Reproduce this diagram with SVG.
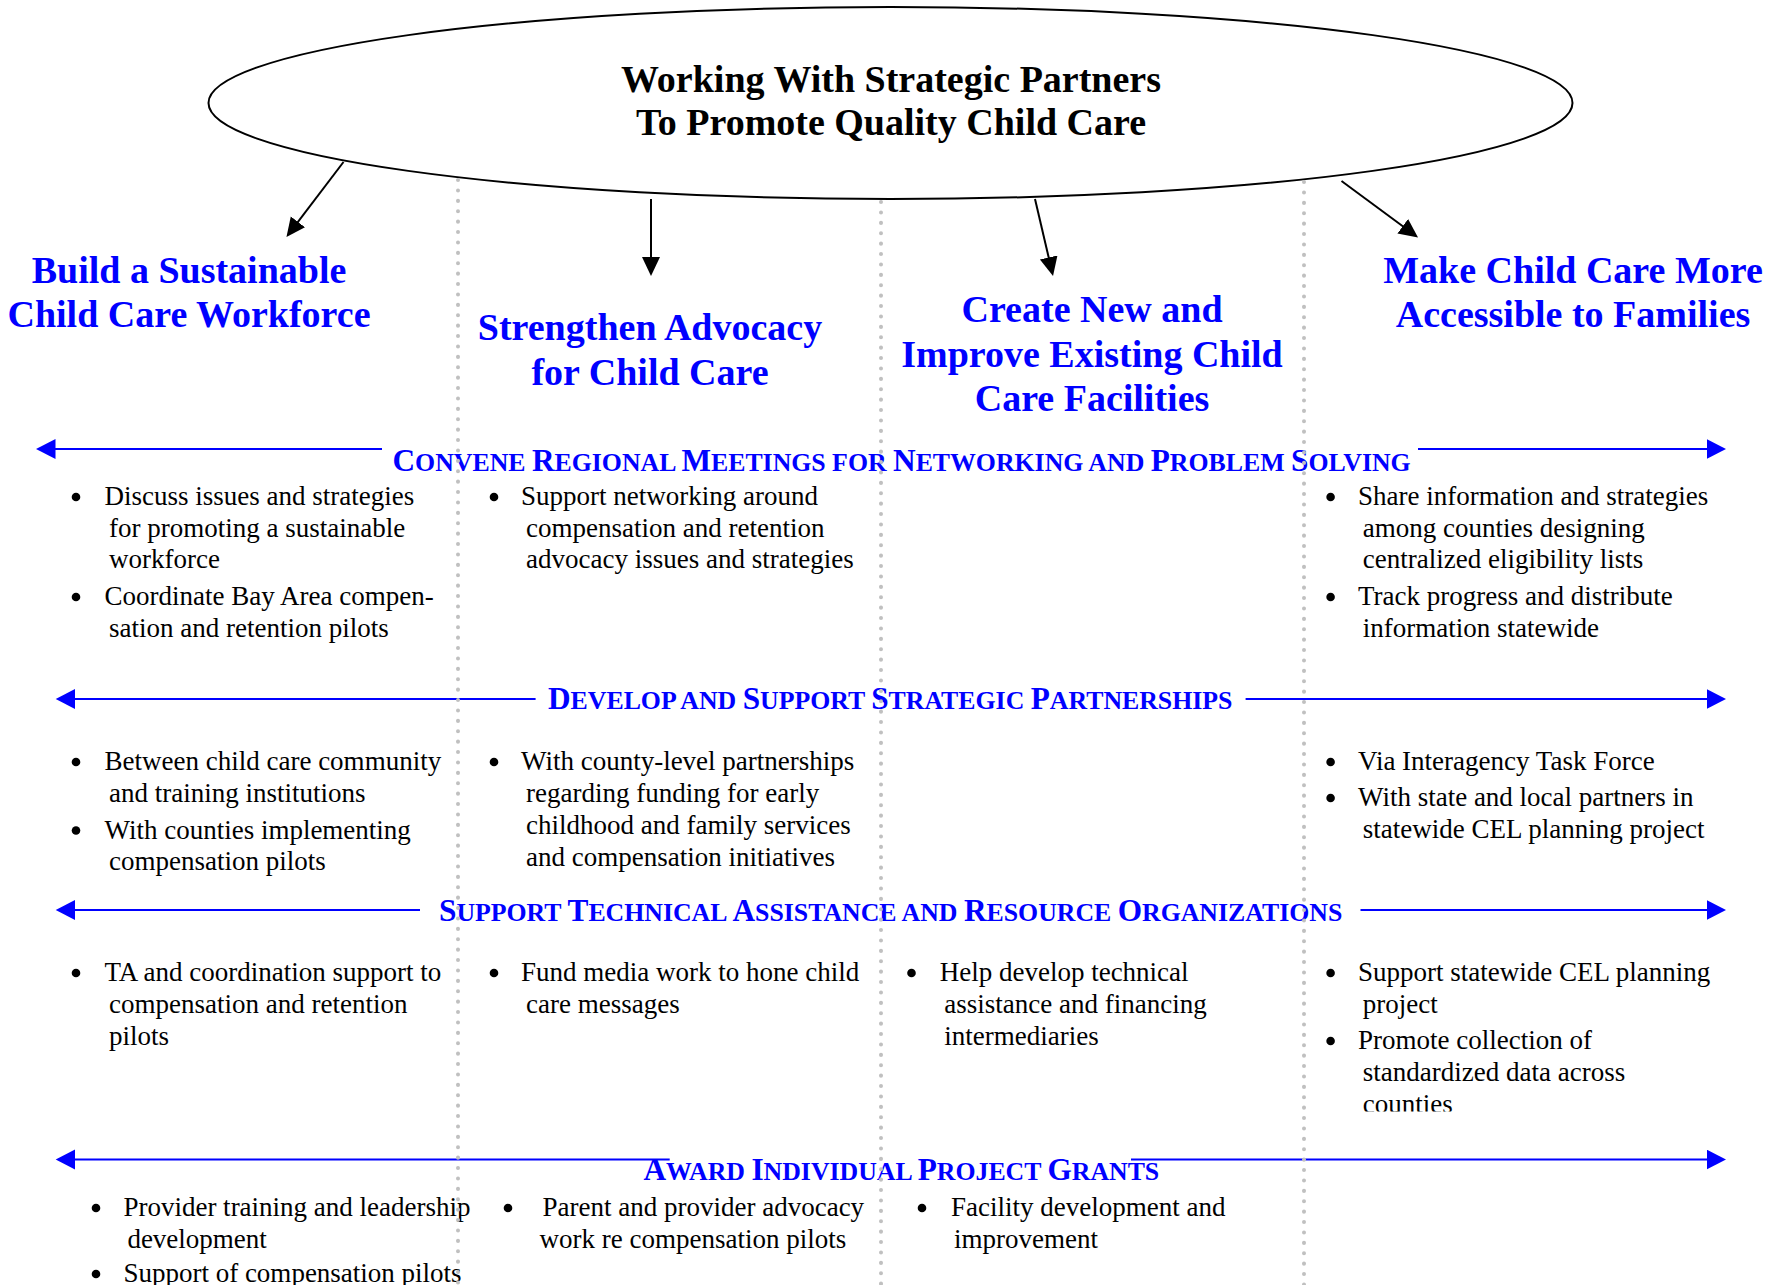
<svg xmlns="http://www.w3.org/2000/svg" width="1784" height="1285" viewBox="0 0 1784 1285">
<defs>
<style>
.t{font-family:"Liberation Serif","Times New Roman",serif;font-weight:bold;font-size:38px;fill:#000;text-anchor:middle}
.h{font-family:"Liberation Serif","Times New Roman",serif;font-weight:bold;font-size:38px;fill:#0000ff;text-anchor:middle}
.s{font-family:"Liberation Serif","Times New Roman",serif;font-weight:bold;font-size:25.8px;fill:#0000ff}
.s .b{font-size:31.3px}
.x{font-family:"Liberation Serif","Times New Roman",serif;font-size:27px;fill:#000}
.bul{fill:#000}
.ka{stroke:#000;stroke-width:2;fill:none}
.ba{stroke:#0000ff;stroke-width:2.2;fill:none}
.div{stroke:#c0c0c0;stroke-width:4;stroke-linecap:round;stroke-dasharray:0.1 10.3;fill:none}
</style>
<marker id="mk" markerUnits="userSpaceOnUse" markerWidth="20" markerHeight="19" refX="11" refY="9" orient="auto">
<path d="M0,0 L19,9 L0,18 Z" fill="#000"/>
</marker>
<marker id="mb" markerUnits="userSpaceOnUse" markerWidth="21" markerHeight="21" refX="11.5" refY="10" orient="auto">
<path d="M0,0 L19.5,10 L0,20 Z" fill="#0000ff"/>
</marker>
<clipPath id="clipCounties"><rect x="1300" y="1060" width="480" height="51.5"/></clipPath>
</defs>
<rect width="1784" height="1285" fill="#fff"/>

<g id="goal">
<ellipse cx="890.5" cy="103" rx="682" ry="96" fill="#fff" stroke="#000" stroke-width="2"/>
<text class="t" x="891" y="92">Working With Strategic Partners</text>
<text class="t" x="891" y="135">To Promote Quality Child Care</text>
</g>

<g id="col-workforce">
<text class="h" x="189" y="283">Build a Sustainable</text>
<text class="h" x="189" y="327">Child Care Workforce</text>
</g>
<g id="col-advocacy">
<text class="h" x="650" y="340">Strengthen Advocacy</text>
<text class="h" x="650" y="385">for Child Care</text>
</g>
<g id="col-facilities">
<text class="h" x="1092" y="322">Create New and</text>
<text class="h" x="1092" y="367">Improve Existing Child</text>
<text class="h" x="1092" y="411">Care Facilities</text>
</g>
<g id="col-access">
<text class="h" x="1573" y="283">Make Child Care More</text>
<text class="h" x="1573" y="327">Accessible to Families</text>
</g>

<g id="connectors">
<line class="ka" x1="343.5" y1="162" x2="291.3" y2="230.6" marker-end="url(#mk)"/>
<line class="ka" x1="651" y1="199" x2="651" y2="268" marker-end="url(#mk)"/>
<line class="ka" x1="1035" y1="199" x2="1051.2" y2="268.2" marker-end="url(#mk)"/>
<line class="ka" x1="1341.5" y1="181" x2="1411.6" y2="232.75" marker-end="url(#mk)"/>
<line class="ba" x1="382" y1="449" x2="44" y2="449" marker-end="url(#mb)"/>
<line class="ba" x1="1418" y1="449" x2="1718" y2="449" marker-end="url(#mb)"/>
<line class="ba" x1="535.6" y1="699" x2="63.7" y2="699" marker-end="url(#mb)"/>
<line class="ba" x1="1245.6" y1="699" x2="1718" y2="699" marker-end="url(#mb)"/>
<line class="ba" x1="420" y1="910" x2="63.7" y2="910" marker-end="url(#mb)"/>
<line class="ba" x1="1360.5" y1="910" x2="1718" y2="910" marker-end="url(#mb)"/>
<line class="ba" x1="669.7" y1="1159.5" x2="63.7" y2="1159.5" marker-end="url(#mb)"/>
<line class="ba" x1="1131" y1="1159.5" x2="1718" y2="1159.5" marker-end="url(#mb)"/>
</g>

<g id="band-convene">
<text class="s" x="392.5" y="471"><tspan class="b">C</tspan>ONVENE <tspan class="b">R</tspan>EGIONAL <tspan class="b">M</tspan>EETINGS FOR <tspan class="b">N</tspan>ETWORKING AND <tspan class="b">P</tspan>ROBLEM <tspan class="b">S</tspan>OLVING</text>
</g>
<g id="band-partnerships">
<text class="s" x="548" y="709"><tspan class="b">D</tspan>EVELOP AND <tspan class="b">S</tspan>UPPORT <tspan class="b">S</tspan>TRATEGIC <tspan class="b">P</tspan>ARTNERSHIPS</text>
</g>
<g id="band-ta">
<text class="s" x="439" y="921"><tspan class="b">S</tspan>UPPORT <tspan class="b">T</tspan>ECHNICAL <tspan class="b">A</tspan>SSISTANCE AND <tspan class="b">R</tspan>ESOURCE <tspan class="b">O</tspan>RGANIZATIONS</text>
</g>
<g id="band-grants">
<text class="s" x="643.5" y="1180"><tspan class="b">A</tspan>WARD <tspan class="b">I</tspan>NDIVIDUAL <tspan class="b">P</tspan>ROJECT <tspan class="b">G</tspan>RANTS</text>
</g>

<!-- Row 1 -->
<g id="cell-r1c1">
<circle class="bul" cx="76" cy="497" r="4.3"/>
<text class="x" x="104.5" y="505">Discuss issues and strategies</text>
<text class="x" x="109" y="537">for promoting a sustainable</text>
<text class="x" x="109" y="568">workforce</text>
<circle class="bul" cx="76" cy="597" r="4.3"/>
<text class="x" x="104.5" y="605">Coordinate Bay Area compen-</text>
<text class="x" x="109" y="637">sation and retention pilots</text>
</g>
<g id="cell-r1c2">
<circle class="bul" cx="494" cy="497" r="4.3"/>
<text class="x" x="521" y="505">Support networking around</text>
<text class="x" x="526" y="537">compensation and retention</text>
<text class="x" x="526" y="568">advocacy issues and strategies</text>
</g>
<g id="cell-r1c4">
<circle class="bul" cx="1330.6" cy="497" r="4.3"/>
<text class="x" x="1358" y="505">Share information and strategies</text>
<text class="x" x="1362.8" y="537">among counties designing</text>
<text class="x" x="1362.8" y="568">centralized eligibility lists</text>
<circle class="bul" cx="1330.6" cy="597" r="4.3"/>
<text class="x" x="1358" y="605">Track progress and distribute</text>
<text class="x" x="1362.8" y="637">information statewide</text>
</g>

<!-- Row 2 -->
<g id="cell-r2c1">
<circle class="bul" cx="76" cy="762" r="4.3"/>
<text class="x" x="104.5" y="770">Between child care community</text>
<text class="x" x="109" y="802">and training institutions</text>
<circle class="bul" cx="76" cy="830.5" r="4.3"/>
<text class="x" x="104.5" y="838.5">With counties implementing</text>
<text class="x" x="109" y="870">compensation pilots</text>
</g>
<g id="cell-r2c2">
<circle class="bul" cx="494" cy="762" r="4.3"/>
<text class="x" x="521" y="770">With county-level partnerships</text>
<text class="x" x="526" y="802">regarding funding for early</text>
<text class="x" x="526" y="834">childhood and family services</text>
<text class="x" x="526" y="866">and compensation initiatives</text>
</g>
<g id="cell-r2c4">
<circle class="bul" cx="1330.6" cy="762" r="4.3"/>
<text class="x" x="1358" y="770">Via Interagency Task Force</text>
<circle class="bul" cx="1330.6" cy="798" r="4.3"/>
<text class="x" x="1358" y="806">With state and local partners in</text>
<text class="x" x="1362.8" y="838">statewide CEL planning project</text>
</g>

<!-- Row 3 -->
<g id="cell-r3c1">
<circle class="bul" cx="76" cy="973" r="4.3"/>
<text class="x" x="104.5" y="981">TA and coordination support to</text>
<text class="x" x="109" y="1013">compensation and retention</text>
<text class="x" x="109" y="1045">pilots</text>
</g>
<g id="cell-r3c2">
<circle class="bul" cx="494" cy="973" r="4.3"/>
<text class="x" x="521" y="981">Fund media work to hone child</text>
<text class="x" x="526" y="1013">care messages</text>
</g>
<g id="cell-r3c3">
<circle class="bul" cx="911.5" cy="973" r="4.3"/>
<text class="x" x="939.7" y="981">Help develop technical</text>
<text class="x" x="944.3" y="1013">assistance and financing</text>
<text class="x" x="944.3" y="1045">intermediaries</text>
</g>
<g id="cell-r3c4">
<circle class="bul" cx="1330.6" cy="973" r="4.3"/>
<text class="x" x="1358" y="981">Support statewide CEL planning</text>
<text class="x" x="1362.8" y="1013">project</text>
<circle class="bul" cx="1330.6" cy="1041" r="4.3"/>
<text class="x" x="1358" y="1049">Promote collection of</text>
<text class="x" x="1362.8" y="1081">standardized data across</text>
<text class="x" x="1362.8" y="1113" clip-path="url(#clipCounties)">counties</text>
</g>

<!-- Row 4 -->
<g id="cell-r4c1">
<circle class="bul" cx="96" cy="1208" r="4.3"/>
<text class="x" x="123.4" y="1216">Provider training and leadership</text>
<text class="x" x="127.4" y="1248">development</text>
<circle class="bul" cx="96" cy="1274" r="4.3"/>
<text class="x" x="123.4" y="1282">Support of compensation pilots</text>
</g>
<g id="cell-r4c2">
<circle class="bul" cx="508" cy="1208" r="4.3"/>
<text class="x" x="542.5" y="1216">Parent and provider advocacy</text>
<text class="x" x="539.6" y="1248">work re compensation pilots</text>
</g>
<g id="cell-r4c3">
<circle class="bul" cx="922" cy="1208" r="4.3"/>
<text class="x" x="951" y="1216">Facility development and</text>
<text class="x" x="954" y="1248">improvement</text>
</g>

<g id="dividers">
<line class="div" x1="458" y1="180" x2="458" y2="1285"/>
<line class="div" x1="881" y1="202" x2="881" y2="1285"/>
<line class="div" x1="1304" y1="182" x2="1304" y2="1285"/>
</g>
</svg>
